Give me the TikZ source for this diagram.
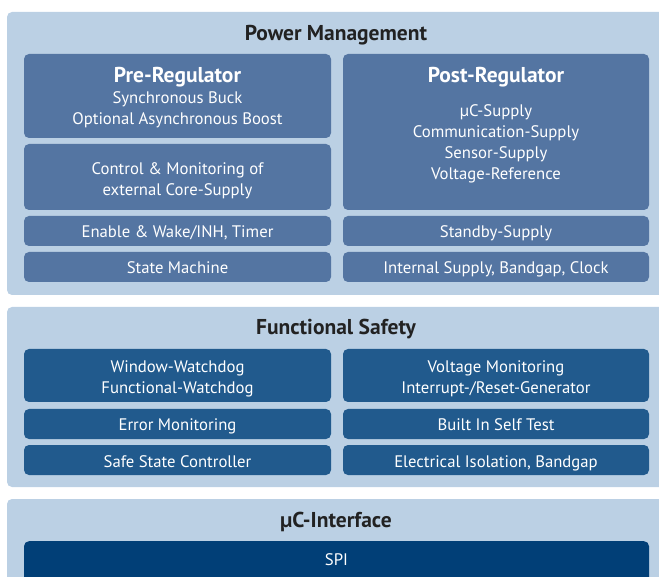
\documentclass[tikz,border=0pt]{standalone}
\usepackage{fontspec}
\setmainfont{PT Sans}
\usetikzlibrary{positioning}

\definecolor{panelblue}{HTML}{BBD0E4}
\definecolor{pmblue}{HTML}{5475A2}
\definecolor{fsblue}{HTML}{215A8D}
\definecolor{spiblue}{HTML}{013F77}
\definecolor{titlegray}{HTML}{222222}

\newcommand{\blktitle}[1]{{\fontsize{21.5}{24}\selectfont\bfseries #1}}

\tikzset{
  panel/.style={fill=panelblue, rounded corners=5pt},
  paneltitle/.style={text=titlegray, font=\fontsize{21.5}{24}\selectfont\bfseries},
  blk/.style={rounded corners=5pt, text=white, align=center, inner sep=0pt,
    font=\fontsize{16.7}{21}\selectfont},
  oneline/.style={text height=14pt, text depth=0pt},
  pmbox/.style={blk, fill=pmblue},
  fsbox/.style={blk, fill=fsblue},
  spibox/.style={blk, fill=spiblue},
  leftcol/.style={minimum width=307pt},
  rightcol/.style={minimum width=306pt}
}

\begin{document}
\begin{tikzpicture}[x=1pt, y=-1pt]

\useasboundingbox (0,0) rectangle (659,577);
\clip (0,0) rectangle (659,577);

% Background panels
\fill[panel] (7,12) rectangle (700,295);
\fill[panel] (7,307) rectangle (700,487);
\fill[panel] (7,499) rectangle (700,650);

% Power Management
\node[paneltitle, oneline] (pmtitle) at (336,34) {Power Management};

\node[pmbox, leftcol, minimum height=84pt] (pre) at (177.5,96) {};
\node[blk] (pretxt) at ([yshift=-1.5pt]pre.center)
  {\blktitle{Pre-Regulator}\\
   Synchronous Buck\\ Optional Asynchronous Boost};
\node[pmbox, leftcol, minimum height=66pt] (ctrl) at (177.5,177) {};
\node[blk] (ctrltxt) at ([yshift=-4pt]ctrl.center)
  {Control \& Monitoring of\\ external Core-Supply};
\node[pmbox, leftcol, oneline, minimum height=30pt] (enable) at (177.5,231)
  {Enable \& Wake/INH, Timer};
\node[pmbox, leftcol, oneline, minimum height=30pt] (state) at (177.5,267)
  {State Machine};

\node[pmbox, rightcol, minimum height=156pt] (post) at (496,132) {};
\node[blk, anchor=north] (posttxt) at ([yshift=-13pt]post.north)
  {\blktitle{Post-Regulator}\\[13pt]
   µC-Supply\\ Communication-Supply\\ Sensor-Supply\\ Voltage-Reference};
\node[pmbox, rightcol, oneline, minimum height=30pt] (standby) at (496,231)
  {Standby-Supply};
\node[pmbox, rightcol, oneline, minimum height=30pt] (internal) at (496,267)
  {Internal Supply, Bandgap, Clock};

% Functional Safety
\node[paneltitle, oneline] (fstitle) at (336,328) {Functional Safety};

\node[fsbox, leftcol, minimum height=53pt] (wdog) at (177.5,375.5) {};
\node[blk] (wdogtxt) at ([yshift=-3pt]wdog.center)
  {Window-Watchdog\\ Functional-Watchdog};
\node[fsbox, leftcol, oneline, minimum height=30pt] (errmon) at (177.5,424)
  {Error Monitoring};
\node[fsbox, leftcol, oneline, minimum height=30pt] (safestate) at (177.5,460)
  {Safe State Controller};

\node[fsbox, rightcol, minimum height=53pt] (vmon) at (496,375.5) {};
\node[blk] (vmontxt) at ([yshift=-3pt]vmon.center)
  {Voltage Monitoring\\ Interrupt-/Reset-Generator};
\node[fsbox, rightcol, oneline, minimum height=30pt] (bist) at (496,424)
  {Built In Self Test};
\node[fsbox, rightcol, oneline, minimum height=30pt] (isol) at (496,460)
  {Electrical Isolation, Bandgap};

% uC-Interface
\node[paneltitle, oneline] (uctitle) at (336,520) {µC-Interface};

\node[spibox, minimum width=625pt, minimum height=60pt, anchor=north] (spi) at (336.5,541) {};
\node[blk, oneline] (spitxt) at (336.5,558) {SPI};

\end{tikzpicture}
\end{document}
